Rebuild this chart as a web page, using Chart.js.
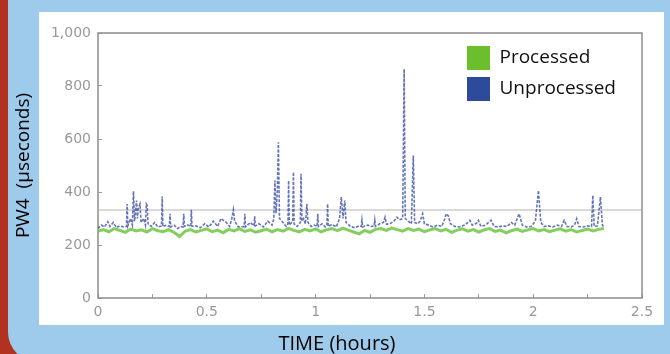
<!DOCTYPE html>
<html>
<head>
<meta charset="utf-8">
<script src="https://cdn.jsdelivr.net/npm/chart.js@4.4.1/dist/chart.umd.min.js"></script>
<style>
  body { margin:0; width:670px; height:354px; overflow:hidden; background:#b0321f; position:relative; }
  #fond { position:absolute; left:8px; top:0; width:670px; height:362px; background:#9ecbeb; border-bottom-left-radius:30px; }
  #cadre { position:absolute; left:39px; top:12px; width:625px; height:313px; background:#ffffff; }
  canvas { position:absolute; left:0; top:0; }
</style>
</head>
<body>
<div id="fond"></div>
<div id="cadre"></div>
<canvas id="graph" width="670" height="354"></canvas>
<script>
// donnees (temps en heures, PW4 en microsecondes)
var tempsTraite = [
  0.000,0.025,0.050,0.075,0.100,0.125,0.150,0.175,0.200,0.225,
  0.250,0.275,0.300,0.325,0.350,0.375,0.400,0.425,0.450,0.475,
  0.500,0.525,0.550,0.575,0.600,0.625,0.650,0.675,0.700,0.725,
  0.750,0.775,0.800,0.825,0.850,0.875,0.900,0.925,0.950,0.975,
  1.000,1.025,1.050,1.075,1.100,1.125,1.150,1.175,1.200,1.225,
  1.250,1.275,1.300,1.325,1.350,1.375,1.400,1.425,1.450,1.475,
  1.500,1.525,1.550,1.575,1.600,1.625,1.650,1.675,1.700,1.725,
  1.750,1.775,1.800,1.825,1.850,1.875,1.900,1.925,1.950,1.975,
  2.000,2.025,2.050,2.075,2.100,2.125,2.150,2.175,2.200,2.225,
  2.250,2.275,2.300,2.325
];
var valeursTraitees = [
  252,258,250,262,255,248,260,253,257,249,
  262,254,250,258,247,232,252,258,249,255,
  261,250,256,246,259,253,262,251,257,248,
  254,260,250,258,252,263,255,249,259,253,
  261,250,257,262,254,264,256,249,242,255,
  248,259,262,255,264,258,252,262,255,260,
  250,257,262,253,259,248,256,261,252,258,
  249,257,262,251,256,246,254,260,251,257,
  262,253,258,250,256,261,252,258,249,255,
  260,253,259,262
];

var tempsBrut = [
  0.000,0.015,0.030,0.045,0.055,0.070,0.085,0.100,0.120,0.131,
  0.134,0.137,0.150,0.158,0.163,0.168,0.173,0.177,0.181,0.186,
  0.193,0.198,0.210,0.218,0.222,0.226,0.230,0.245,0.260,0.275,
  0.292,0.295,0.298,0.315,0.328,0.331,0.334,0.350,0.365,0.380,
  0.391,0.394,0.397,0.410,0.426,0.429,0.432,0.450,0.470,0.490,
  0.510,0.530,0.550,0.565,0.590,0.605,0.615,0.622,0.628,0.645,
  0.672,0.675,0.678,0.700,0.717,0.720,0.723,0.740,0.760,0.780,
  0.800,0.808,0.813,0.818,0.824,0.829,0.834,0.850,0.865,0.873,
  0.876,0.879,0.895,0.898,0.901,0.915,0.930,0.933,0.937,0.945,
  0.953,0.960,0.965,0.980,0.995,1.007,1.010,1.013,1.030,1.045,
  1.052,1.055,1.058,1.075,1.095,1.110,1.118,1.126,1.134,1.140,
  1.160,1.180,1.200,1.210,1.213,1.216,1.240,1.255,1.269,1.272,
  1.275,1.295,1.312,1.319,1.326,1.345,1.360,1.374,1.385,1.400,
  1.407,1.412,1.425,1.440,1.449,1.455,1.470,1.480,1.492,1.500,
  1.520,1.540,1.560,1.580,1.592,1.600,1.610,1.620,1.640,1.660,
  1.685,1.700,1.709,1.720,1.740,1.748,1.760,1.780,1.795,1.807,
  1.820,1.840,1.860,1.880,1.900,1.915,1.935,1.950,1.970,1.990,
  2.010,2.024,2.035,2.050,2.070,2.090,2.110,2.130,2.142,2.155,
  2.175,2.190,2.200,2.210,2.230,2.250,2.268,2.274,2.280,2.295,
  2.309,2.318,2.325
];
var valeursBrutes = [
  262,275,268,288,270,285,266,272,268,270,
  355,272,300,275,403,290,330,368,300,340,
  355,285,300,275,355,350,280,270,285,268,
  272,383,270,275,270,318,268,275,262,270,
  268,318,270,276,270,333,270,272,265,280,
  268,290,270,300,285,270,300,333,290,268,
  270,318,268,285,272,308,272,280,268,290,
  275,300,443,320,400,588,300,285,270,280,
  443,275,290,475,280,270,285,469,290,300,
  280,355,285,270,275,270,318,270,280,268,
  275,355,270,278,268,300,381,300,368,285,
  270,265,272,270,293,268,275,270,272,293,
  270,280,285,305,278,282,290,305,295,300,
  864,300,290,280,538,285,280,290,318,280,
  275,268,275,270,295,318,310,280,270,268,
  275,285,293,275,282,293,270,275,285,293,
  270,268,272,270,285,275,318,275,268,270,
  290,406,285,270,272,268,275,270,293,270,
  268,275,299,270,268,272,270,387,270,272,
  381,275,268
];

// ligne grise horizontale (seuil)
var seuilTemps = [0, 2.5];
var seuilValeurs = [332, 332];

var etiquettes = ['Processed', 'Unprocessed'];
var couleursLegende = ['#6bbf2c', '#2e4a9b'];

function versPoints(xs, ys) {
    var pts = [];
    for (var i = 0; i < xs.length; i++) {
        pts.push({x: xs[i], y: ys[i]});
    }
    return pts;
}

// cadre gris autour de la zone de trace + legende dans le coin haut droit
var cadrePlugin = {
    id: 'cadre',
    afterLayout: function(chart) {
        var a = chart.chartArea;
        chart.legend.left = a.right - 182;
        chart.legend.top = a.top + 6;
    },
    beforeDatasetsDraw: function(chart) {
        var a = chart.chartArea;
        var c = chart.ctx;
        c.save();
        c.strokeStyle = '#8c8c8c';
        c.lineWidth = 1.5;
        c.strokeRect(a.left, a.top, a.right - a.left, a.bottom - a.top);
        c.restore();
    }
};

var policeTicks = {family: 'DejaVu Sans', size: 14};

var ctx = document.getElementById('graph').getContext('2d');
var myChart = new Chart(ctx, {
    type: 'line',
    data: {
        datasets: [{
            label: etiquettes[0],
            data: versPoints(tempsTraite, valeursTraitees),
            borderColor: 'rgba(110, 198, 66, 0.85)',
            backgroundColor: couleursLegende[0],
            borderWidth: 3,
            pointRadius: 0,
            order: 0
        },
        {
            label: etiquettes[1],
            data: versPoints(tempsBrut, valeursBrutes),
            borderColor: 'rgba(50, 70, 160, 0.75)',
            backgroundColor: couleursLegende[1],
            borderWidth: 1.6,
            borderDash: [3, 1.5],
            pointRadius: 0,
            order: 1
        },
        {
            label: '',
            data: versPoints(seuilTemps, seuilValeurs),
            borderColor: '#b4b4b4',
            borderWidth: 1.2,
            pointRadius: 0,
            order: 2
        }]
    },
    options: {
        responsive: false,
        animation: false,
        layout: { padding: { left: 12, right: 8, top: 33, bottom: 0 } },
        plugins: {
            tooltip: { enabled: false },
            title: {
                display: true,
                position: 'bottom',
                text: 'TIME (hours)',
                color: '#000',
                font: { family: 'Open Sans', size: 20, weight: 'normal', lineHeight: 1 },
                padding: 0
            },
            legend: {
                position: 'chartArea',
                align: 'start',
                labels: {
                    boxWidth: 23,
                    boxHeight: 24,
                    padding: 7,
                    color: '#111',
                    font: { family: 'Open Sans', size: 19 },
                    generateLabels: function(chart) {
                        var items = [];
                        chart.data.datasets.forEach(function(d, i) {
                            if (!d.label) return;
                            items.push({
                                text: d.label,
                                fillStyle: d.backgroundColor,
                                strokeStyle: d.backgroundColor,
                                lineWidth: 0,
                                fontColor: '#111',
                                hidden: false,
                                datasetIndex: i
                            });
                        });
                        return items;
                    }
                }
            }
        },
        scales: {
            x: {
                type: 'linear',
                min: 0,
                max: 2.5,
                afterFit: function(s) { s.height = 36; },
                border: { display: false },
                grid: { drawOnChartArea: false, drawTicks: true, tickLength: -4, color: '#9a9a9a' },
                ticks: {
                    stepSize: 0.25,
                    maxRotation: 0,
                    autoSkip: false,
                    padding: 10,
                    color: '#999999',
                    font: policeTicks,
                    callback: function(v) { return (v * 2) % 1 === 0 ? String(v) : ''; }
                }
            },
            y: {
                min: 0,
                max: 1000,
                afterFit: function(s) { s.width = 86; },
                border: { display: false },
                grid: { drawOnChartArea: false, drawTicks: true, tickLength: -4, color: '#9a9a9a' },
                ticks: { stepSize: 200, padding: 11, color: '#999999', font: policeTicks },
                title: {
                    display: true,
                    text: 'PW4  (µseconds)',
                    color: '#000',
                    font: { family: 'Open Sans', size: 19, lineHeight: 1.2 },
                    padding: { top: 0, bottom: 0 }
                }
            },
            y2: {
                position: 'right',
                afterFit: function(s) { s.width = 20; },
                border: { display: false },
                grid: { display: false },
                ticks: { display: false }
            }
        }
    },
    plugins: [cadrePlugin]
});
</script>
</body>
</html>
